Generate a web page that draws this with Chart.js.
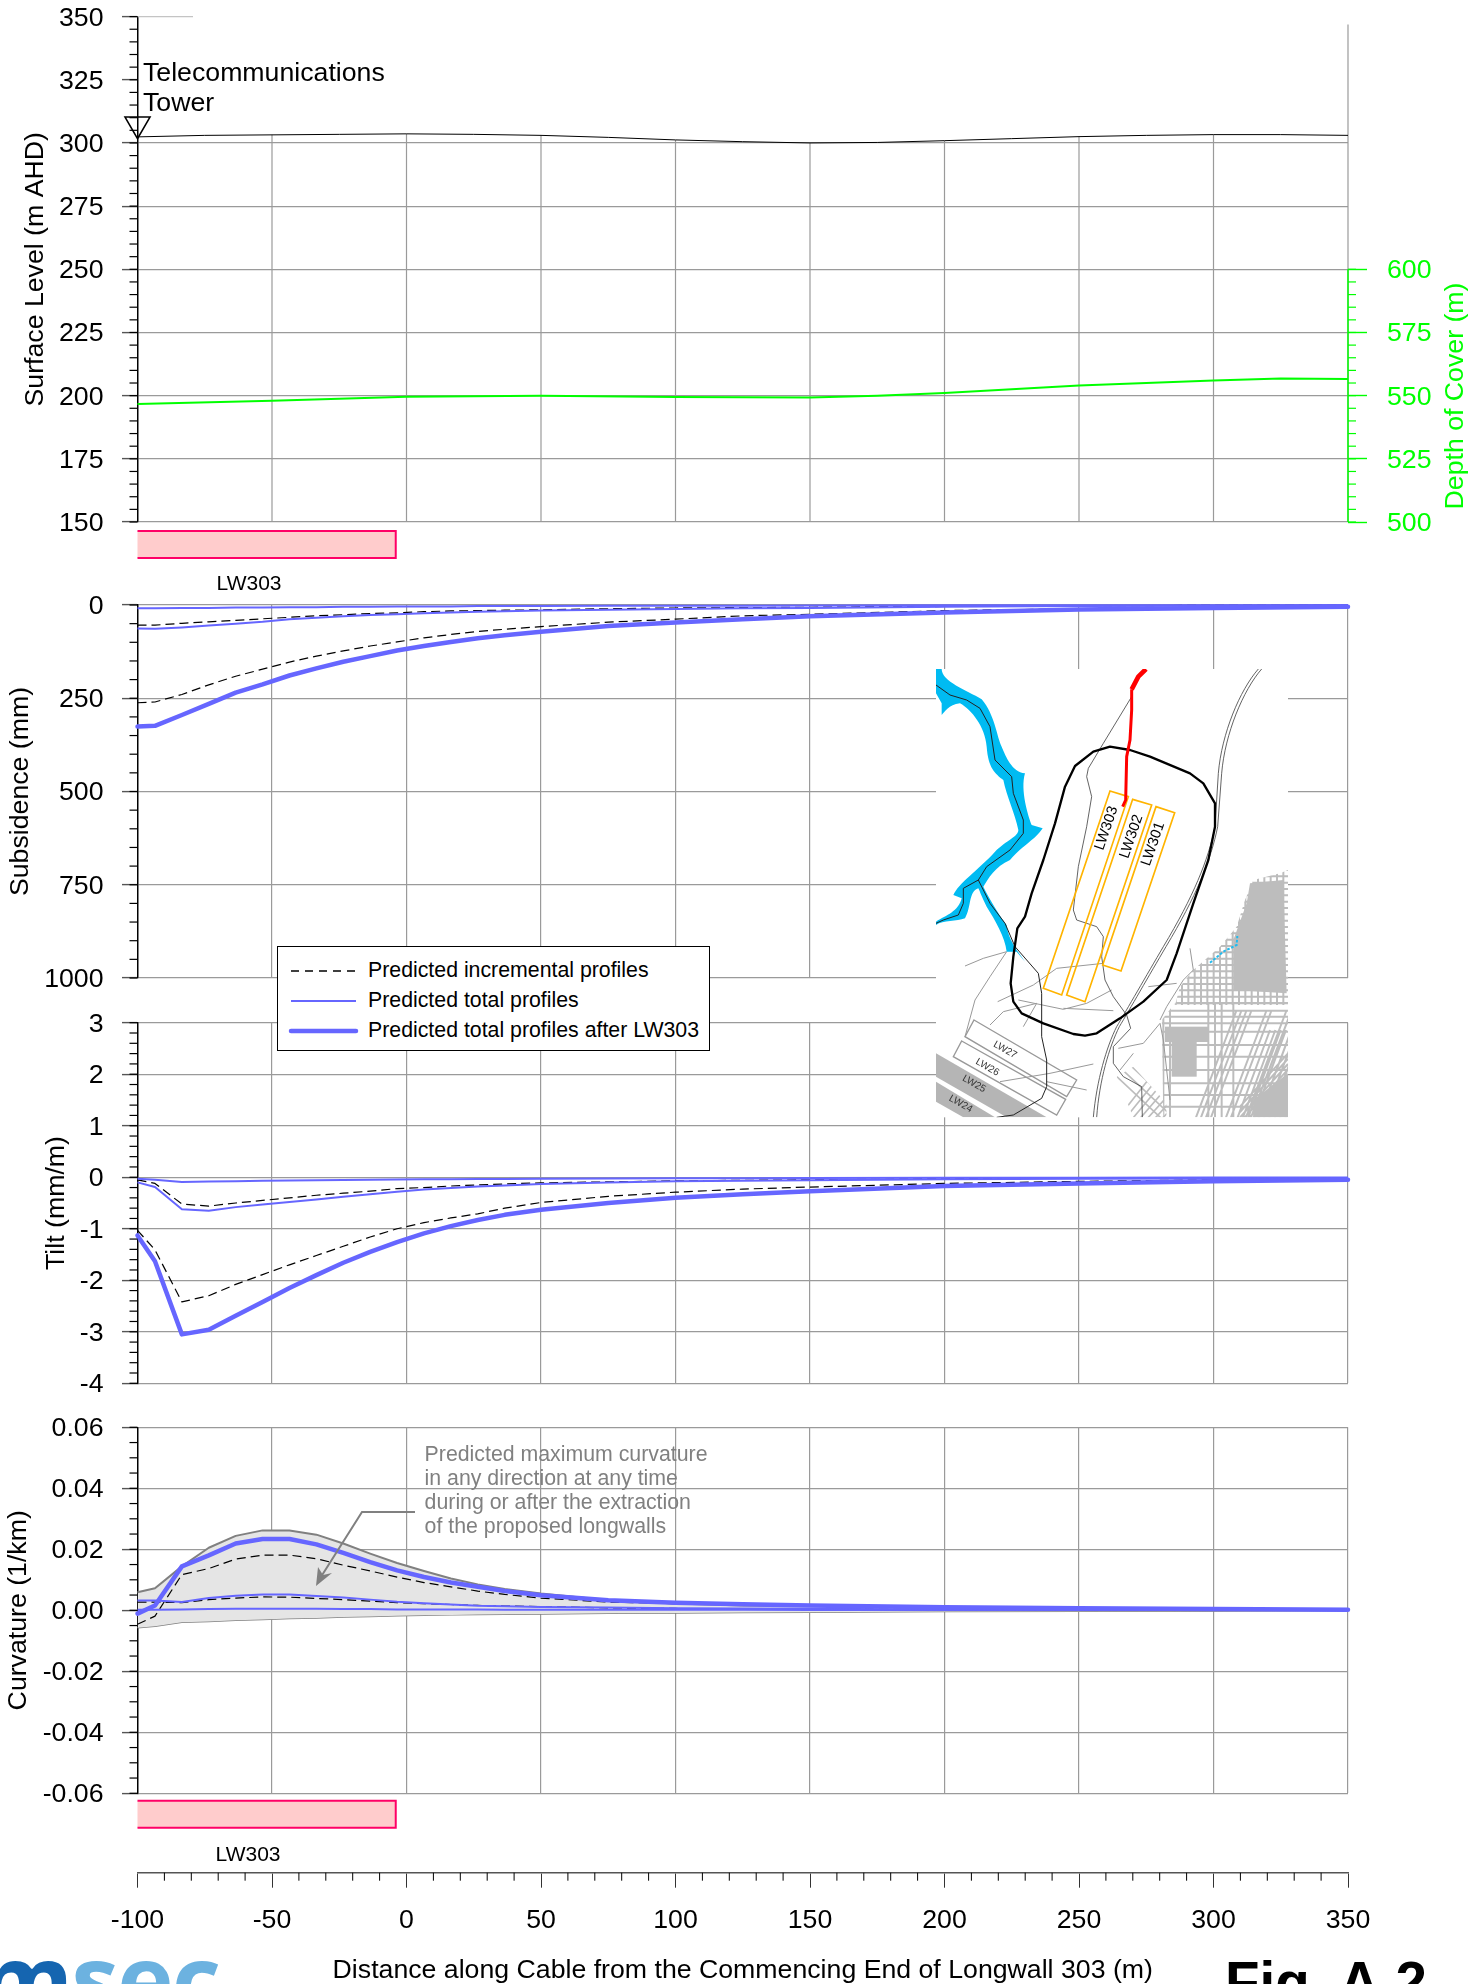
<!DOCTYPE html>
<html>
<head>
<meta charset="utf-8">
<style>
html,body{margin:0;padding:0;background:#fff;}
body{position:relative;width:1484px;height:1984px;overflow:hidden;font-family:"Liberation Sans",Arial,sans-serif;}
canvas{position:absolute;left:0;}
#legend{position:absolute;left:277px;top:946px;width:431px;height:103px;background:#fff;border:1.5px solid #000;box-sizing:content-box;}
#legend .row{position:absolute;left:90px;font-size:21.3px;line-height:24px;white-space:nowrap;color:#000;}
#legend svg{position:absolute;left:0;top:0;}
#map{position:absolute;left:900px;top:640px;}
#fig{position:absolute;left:1225px;top:1950px;font-size:56.5px;font-weight:bold;line-height:66px;white-space:nowrap;color:#000;}
#logo{position:absolute;left:-21px;top:1928px;font-family:"Open Sans",sans-serif;font-weight:700;font-size:96px;line-height:100px;white-space:nowrap;letter-spacing:-2px;}
</style>
</head>
<body>
<canvas id="c1"></canvas>
<canvas id="c2"></canvas>
<canvas id="c3"></canvas>
<canvas id="c4"></canvas>
<canvas id="c5"></canvas>
<div id="mapHolder"></div>
<div id="legend">
  <svg width="431" height="103">
    <line x1="13" x2="78" y1="24" y2="24" stroke="#000" stroke-width="1.6" stroke-dasharray="8 6"/>
    <line x1="13" x2="78" y1="54" y2="54" stroke="#6666FF" stroke-width="2"/>
    <line x1="13" x2="78" y1="84" y2="84" stroke="#6666FF" stroke-width="4.5" stroke-linecap="round"/>
  </svg>
  <div class="row" style="top:11px">Predicted incremental profiles</div>
  <div class="row" style="top:41px">Predicted total profiles</div>
  <div class="row" style="top:71px">Predicted total profiles after LW303</div>
</div>
<div id="logo"><span style="color:#1565b0">m</span><span style="color:#6cb2e0">sec</span></div>
<div id="fig">Fig. A.2</div>
<script src="https://cdn.jsdelivr.net/npm/chart.js"></script>
<script>
// ---------- data ----------
const surfaceX = [-100,-75,-50,-25,0,25,50,75,100,125,150,175,200,225,250,275,300,325,350];
const surfaceLevel = [302.4,303,303.2,303.4,303.6,303.4,303,302.2,301.2,300.5,300,300.2,300.9,301.7,302.5,303,303.3,303.3,303];
const depthX = [-100,-50,0,50,100,150,175,200,250,300,325,350];
const depthOfCover = [546.7,548,549.6,550,549.5,549.3,550,551,554,556,556.8,556.6];
const towerX = [-100];
const towerY = [307.4];
const longwallSpan = [-100,-4];
const longwallName = "LW303";

const profileX = [-100,-93.5,-83.5,-73.5,-63.5,-53.5,-43.5,-33.5,-23.5,-13.5,-3.5,6.5,16.5,26.5,36.5,50,75,100,125,150,200,250,300,350];

const subsAfter = [326,324,295,265,235,213,189,170,152,137,122,110,99,89,81,72,56,47,38,30,20,12,8,5];
const subsIncBig = [262,260,240,214,191,172,153,137,123,110,99,88,79,71,65,58,46,38,29,25,15,10,7,4];
const subsTotalMid = [63,64,60,55,50,45,38,34,30,27,25,22,20,18,17,15,13,11,9,8,5,3,2,1];
const subsIncMid = [54,54,49,45,41,37,33,29,26,23,21,18,16,15,14,13,10,8,7,6,4,2,1,1];
const subsTotalLow = [9,9,8,8,7,7,6,6,5,5,4,4,4,3,3,3,2,2,2,1.5,1,1,0.5,0.5];

const tiltAfter = [-1.13,-1.63,-3.05,-2.96,-2.69,-2.42,-2.15,-1.9,-1.66,-1.45,-1.26,-1.09,-0.95,-0.83,-0.73,-0.63,-0.5,-0.4,-0.33,-0.27,-0.17,-0.12,-0.08,-0.05];
const tiltIncBig = [-1.03,-1.41,-2.42,-2.3,-2.08,-1.89,-1.7,-1.52,-1.34,-1.16,-1,-0.88,-0.79,-0.71,-0.6,-0.49,-0.37,-0.29,-0.23,-0.19,-0.12,-0.08,-0.05,-0.03];
const tiltTotalMid = [-0.1,-0.19,-0.62,-0.65,-0.58,-0.53,-0.48,-0.43,-0.38,-0.33,-0.28,-0.24,-0.21,-0.18,-0.16,-0.13,-0.1,-0.08,-0.07,-0.06,-0.04,-0.03,-0.025,-0.02];
const tiltIncMid = [-0.05,-0.12,-0.52,-0.56,-0.5,-0.45,-0.4,-0.35,-0.31,-0.27,-0.22,-0.2,-0.17,-0.15,-0.13,-0.11,-0.09,-0.07,-0.06,-0.05,-0.03,-0.02,-0.015,-0.01];
const tiltTotalLow = [-0.03,-0.05,-0.09,-0.085,-0.08,-0.07,-0.065,-0.06,-0.055,-0.05,-0.045,-0.04,-0.04,-0.035,-0.035,-0.03,-0.025,-0.02,-0.018,-0.015,-0.012,-0.01,-0.007,-0.005];

const curvUpper = [0.0059,0.0072,0.0144,0.0205,0.0244,0.0262,0.0262,0.0248,0.0219,0.0186,0.0155,0.0129,0.0104,0.0085,0.007,0.0055,0.0033,0.0022,0.0016,0.0014,0.0011,0.0007,0.0004,0.0003];
const curvLower = [-0.0057,-0.0052,-0.0039,-0.0037,-0.0033,-0.003,-0.0027,-0.0025,-0.0022,-0.002,-0.0018,-0.0016,-0.0015,-0.0014,-0.0013,-0.0012,-0.001,-0.0009,-0.0007,-0.0006,-0.0004,-0.0003,-0.0002,-0.0001];
const curvAfter = [-0.0011,0.0016,0.0144,0.018,0.0219,0.0234,0.0234,0.0216,0.0188,0.0158,0.0131,0.0109,0.0091,0.0077,0.0063,0.0049,0.0033,0.0025,0.002,0.0016,0.001,0.0007,0.0004,0.0002];
const curvIncBig = [-0.0046,-0.0019,0.0117,0.0137,0.0168,0.0181,0.0181,0.0169,0.0148,0.0129,0.0109,0.0091,0.0077,0.0063,0.0052,0.004,0.0027,0.0022,0.0019,0.0014,0.0008,0.0005,0.0003,0.0002];
const curvTotalMid = [0.0032,0.0032,0.0027,0.004,0.0048,0.0052,0.0052,0.0047,0.0042,0.0035,0.0028,0.0023,0.0019,0.0015,0.0013,0.0011,0.0009,0.0007,0.0006,0.0005,0.0003,0.0002,0.0001,0.0001];
const curvIncMid = [0.0027,0.0027,0.0025,0.0035,0.004,0.0044,0.0043,0.0039,0.0035,0.003,0.0025,0.0022,0.0019,0.0016,0.0014,0.0012,0.0008,0.0006,0.0005,0.0004,0.0003,0.0002,0.0001,0.0001];
const curvTotalLow = [0.0002,0.0002,0.0003,0.0004,0.0005,0.0005,0.0005,0.0005,0.0004,0.0004,0.0003,0.0003,0.0003,0.0003,0.0002,0.0002,0.0002,0.0002,0.0002,0.0001,0.0001,0.0001,0.0001,0.0001];

const towerText = ["Telecommunications","Tower"];
const noteText = ["Predicted maximum curvature","in any direction at any time","during or after the extraction","of the proposed longwalls"];

// ---------- styles ----------
const FS = 26.7, BLUE = "#6666FF", GRID = "#9a9a9a", TICK = "#555";
Chart.defaults.font.family = '"Liberation Sans",Arial,sans-serif';
Chart.defaults.font.size = FS;
Chart.defaults.color = "#000";
Chart.defaults.animation = false;

// y-axis tick labels sit slightly lower than the canvas "middle" baseline
Chart.register({id:"labelNudge",beforeDraw(ch){
  Object.values(ch.scales).forEach(s=>{
    if(s.axis==="y" && s.options.display) s.getLabelItems().forEach(i=>{i.textOffset+=1.6;});
  });
}});

const L = 137.5, R = 1348;

function series(xs, ys, o){
  return Object.assign({data: xs.map((x,i)=>({x, y: ys[i]})), pointRadius:0, tension:0, clip:false, fill:false, borderJoinStyle:"round"}, o);
}
const thick = {borderColor:BLUE, borderWidth:4.5, borderCapStyle:"round"};
const thin  = {borderColor:BLUE, borderWidth:2};
const dash  = {borderColor:"#000", borderWidth:1.2, borderDash:[9,5]};

function xHidden(gridOn){
  return {type:"linear", min:-100, max:350, ticks:{display:false, stepSize:50},
    border:{display:false},
    grid:{display:gridOn, drawTicks:false, tickLength:0, lineWidth:1.2,
      color:c=>c.tick && c.tick.value===-100 ? "transparent" : GRID},
    afterFit:s=>{s.height=0;}};
}
function yLeft(min,max,step,titleText,left,fmt,reverse,skipAbove){
  return {type:"linear", position:"left", min, max, reverse:!!reverse,
    ticks:{stepSize:step, autoSkip:false, padding:18.5, callback:fmt||(v=>String(v)), font:{size:FS}},
    title:{display:true, text:titleText, padding:0, font:{size:FS}, color:"#000"},
    border:{color:"#000", width:1.5},
    grid:{tickLength:15.5, lineWidth:1.2, tickWidth:1.4, tickColor:TICK,
      color:c=> (skipAbove!==undefined && c.tick.value>skipAbove) ? "transparent" : GRID},
    afterFit:s=>{s.width=L-left;}};
}
function minorYPlugin(scaleId, minor, color, dir, maxV){
  return {id:"minor"+scaleId, afterDraw(ch){
    const s=ch.scales[scaleId], g=ch.ctx; g.save(); g.strokeStyle=color; g.lineWidth=1.2;
    const top=maxV===undefined?s.max:maxV;
    const n=Math.round((top-s.min)/minor);
    for(let i=0;i<=n;i++){
      const v=s.min+i*minor;
      const y=s.getPixelForValue(v);
      const x0=dir<0?L:R;
      g.beginPath(); g.moveTo(x0,y); g.lineTo(x0+dir*8,y); g.stroke();
    }
    g.restore();
  }};
}
function longwallPlugin(yTop,yBot,yText,xText){
  return {id:"longwall", afterDraw(ch){
    const x=ch.scales.x, g=ch.ctx;
    const a=x.getPixelForValue(longwallSpan[0]), b=x.getPixelForValue(longwallSpan[1]);
    const off=parseFloat(ch.canvas.style.top);
    g.save();
    g.fillStyle="#FFCCCC"; g.fillRect(a,yTop-off,b-a,yBot-yTop);
    g.strokeStyle="#FF0066"; g.lineWidth=2; g.beginPath();
    g.moveTo(a,yTop-off); g.lineTo(b,yTop-off); g.lineTo(b,yBot-off); g.lineTo(a,yBot-off); g.stroke();
    g.fillStyle="#000"; g.font='21px "Liberation Sans",Arial,sans-serif'; g.textAlign="center"; g.textBaseline="middle";
    g.fillText(longwallName,xText,yText+1.2-off);
    g.restore();
  }};
}
function place(id, top, bottom, areaTop, areaBottom){
  const c=document.getElementById(id);
  c.width=1484; c.height=bottom-top;
  c.style.top=top+"px"; c.style.width="1484px"; c.style.height=(bottom-top)+"px";
  return {top:areaTop-top, bottom:bottom-areaBottom};
}
function make(id, top, bottom, aTop, aBot, padLeft, padRight, datasets, scales, plugins){
  const p=place(id,top,bottom,aTop,aBot);
  return new Chart(document.getElementById(id),{type:"line",data:{datasets},
    plugins,
    options:{responsive:false,devicePixelRatio:1,animation:false,parsing:true,
      layout:{padding:{left:padLeft,right:padRight,top:p.top,bottom:p.bottom}},
      plugins:{legend:{display:false},tooltip:{enabled:false}},
      scales}});
}

// ---------- panel 1: surface level & depth of cover ----------
const OFF1 = -50;
make("c1",OFF1,602,16.6,522,20,0,[
  series(surfaceX,surfaceLevel,{borderColor:"#000",borderWidth:1,yAxisID:"y"}),
  series(depthX,depthOfCover,{borderColor:"#00FF00",borderWidth:2,yAxisID:"y2"}),
  {data:towerX.map((x,i)=>({x,y:towerY[i]})),yAxisID:"y",showLine:false,clip:false,
   pointStyle:"triangle",pointRotation:180,pointRadius:14.4,borderColor:"#000",borderWidth:1.6,backgroundColor:"rgba(255,255,255,0)"}
],{
  x:xHidden(false),
  y:yLeft(150,350,25,"Surface Level (m AHD)",20,null,false,300),
  y2:{type:"linear",position:"right",min:500,max:700,
    ticks:{stepSize:25,autoSkip:false,padding:20,color:"#00FF00",callback:v=>v<=600?String(v):"",font:{size:FS}},
    border:{display:false},
    grid:{drawOnChartArea:false,tickLength:19,tickWidth:1.4,tickColor:c=>c.tick.value<=600?"#00FF00":"transparent"},
    afterFit:s=>{s.width=136;}}
},[
  {id:"topGrid",beforeDatasetsDraw(ch){
    const x=ch.scales.x,y=ch.scales.y,g=ch.ctx;
    g.save(); g.strokeStyle=GRID; g.lineWidth=1.2;
    for(let v=-50;v<=350;v+=50){
      const px=x.getPixelForValue(v);
      const k=surfaceX.indexOf(v);
      const yTop=v===350?24.5-OFF1:y.getPixelForValue(surfaceLevel[k]);
      g.beginPath(); g.moveTo(px,yTop); g.lineTo(px,y.getPixelForValue(150)); g.stroke();
    }
    g.strokeStyle="#c4c4c4";
    const y350=y.getPixelForValue(350);
    g.beginPath(); g.moveTo(L,y350); g.lineTo(193,y350); g.stroke();
    g.restore();
  }},
  minorYPlugin("y",5,"#000",-1),
  minorYPlugin("y2",5,"#00FF00",1,600),
  {id:"greenAxis",afterDraw(ch){
    const s=ch.scales.y2,g=ch.ctx;
    g.save(); g.strokeStyle="#00FF00"; g.lineWidth=1.5;
    g.beginPath(); g.moveTo(R,s.getPixelForValue(500)); g.lineTo(R,s.getPixelForValue(600)); g.stroke();
    g.translate(1456,396-OFF1); g.rotate(-Math.PI/2);
    g.fillStyle="#00FF00"; g.font=FS+'px "Liberation Sans",Arial,sans-serif'; g.textAlign="center"; g.textBaseline="middle";
    g.fillText("Depth of Cover (m)",0,0);
    g.restore();
    g.save(); g.fillStyle="#000"; g.font='26.7px "Liberation Sans",Arial,sans-serif'; g.textBaseline="middle";
    g.fillText(towerText[0],143,73.5-OFF1); g.fillText(towerText[1],143,103.5-OFF1);
    g.restore();
  }},
  longwallPlugin(531,558,583,249)
]);

// ---------- panel 2: subsidence ----------
make("c2",555,1030,605,978,5,136,[
  series(profileX,subsAfter,thick),
  series(profileX,subsTotalMid,thin),
  series(profileX,subsTotalLow,thin),
  series(profileX,subsIncBig,dash),
  series(profileX,subsIncMid,dash)
],{
  x:xHidden(true),
  y:yLeft(0,1000,250,"Subsidence (mm)",5,null,true)
},[minorYPlugin("y",50,"#000",-1)]);

// ---------- panel 3: tilt ----------
make("c3",970,1440,1022.7,1383.3,41,136,[
  series(profileX,tiltAfter,thick),
  series(profileX,tiltTotalMid,thin),
  series(profileX,tiltTotalLow,thin),
  series(profileX,tiltIncBig,dash),
  series(profileX,tiltIncMid,dash)
],{
  x:xHidden(true),
  y:yLeft(-4,3,1,"Tilt (mm/m)",41)
},[minorYPlugin("y",0.2,"#000",-1)]);

// ---------- panel 4: curvature ----------
const OFF4 = 1377;
make("c4",OFF4,1870,1427.3,1793.3,3,136,[
  series(profileX,curvAfter,thick),
  series(profileX,curvTotalMid,thin),
  series(profileX,curvTotalLow,thin),
  series(profileX,curvIncBig,dash),
  series(profileX,curvIncMid,dash),
  series(profileX,curvUpper,{borderColor:"#808080",borderWidth:2,fill:"+1",backgroundColor:"#e5e5e5"}),
  series(profileX,curvLower,{borderColor:"#808080",borderWidth:1.5})
],{
  x:xHidden(true),
  y:yLeft(-0.06,0.06,0.02,"Curvature (1/km)",3,v=>v.toFixed(2).replace("-0.00","0.00"))
},[
  minorYPlugin("y",0.005,"#000",-1),
  longwallPlugin(1800.7,1827.7,1854,248),
  {id:"note",afterDatasetsDraw(ch){
    const g=ch.ctx, off=OFF4; g.save();
    g.fillStyle="#808080"; g.font='21.3px "Liberation Sans",Arial,sans-serif'; g.textBaseline="middle";
    noteText.forEach((t,i)=>g.fillText(t,424.6,1455+24*i-off));
    g.strokeStyle="#808080"; g.lineWidth=2;
    g.beginPath(); g.moveTo(415,1512-off); g.lineTo(362,1512-off); g.lineTo(319,1580-off); g.stroke();
    g.beginPath(); g.moveTo(316,1586-off); g.lineTo(318,1567-off); g.lineTo(323,1575-off); g.lineTo(332,1573-off); g.closePath();
    g.fillStyle="#808080"; g.fill();
    g.restore();
  }}
]);

// ---------- bottom distance axis ----------
(function(){
  const p=place("c5",1850,1987,1862.7,1872.7);
  new Chart(document.getElementById("c5"),{type:"line",data:{datasets:[]},
    plugins:[{id:"minorX",afterDraw(ch){
      const x=ch.scales.x,g=ch.ctx,y0=ch.chartArea.bottom;
      g.save(); g.strokeStyle="#000"; g.lineWidth=1;
      for(let v=-100;v<=350;v+=10){
        if(v%50===0) continue;
        const px=x.getPixelForValue(v);
        g.beginPath(); g.moveTo(px,y0); g.lineTo(px,y0+8); g.stroke();
      }
      g.restore();
    }}],
    options:{responsive:false,devicePixelRatio:1,animation:false,
      layout:{padding:{left:L,right:136,top:p.top,bottom:0}},
      plugins:{legend:{display:false},tooltip:{enabled:false}},
      scales:{
        y:{display:false,min:0,max:1},
        x:{type:"linear",position:"bottom",min:-100,max:350,
          ticks:{stepSize:50,autoSkip:false,maxRotation:0,padding:16.5,callback:v=>String(v),font:{size:FS}},
          border:{color:"#555",width:1.5},
          title:{display:true,text:"Distance along Cable from the Commencing End of Longwall 303 (m)",padding:0,font:{size:FS},color:"#000"},
          grid:{drawOnChartArea:false,tickLength:15,tickColor:"#333",tickWidth:1},
          afterFit:s=>{s.height=114.3;}}
      }}});
})();

// ---------- location map inset ----------
(function(){
  const poly=a=>a.map(p=>p.join(",")).join(" ");
  const pl=(a,c,w)=>`<polyline points="${poly(a)}" fill="none" stroke="${c}" stroke-width="${w}" stroke-linejoin="round"/>`;
  let streets="";
  for(let y=690;y<1100;y+=19) streets+=`M760 ${y}H1170`;
  for(let x=770;x<1170;x+=19) streets+=`M${x} 680V1100`;
  let lower="";
  for(const y of [1090,1112,1130,1150,1175,1215,1250,1290,1330,1365,1400]) lower+=`M760 ${y}H1170`;
  for(const x of [790,810,925,945,965,1000]) lower+=`M${x} 1090V1440`;
  for(let i=0;i<14;i++){ const d=i*15; lower+=`M${885+d} 1440L${1010+d} 1110`; if(i%4==3) i+=2; }
  for(let i=0;i<10;i++){ const d=i*16; lower+=`M${1010+d} 1440L${1110+d} 1170`; }
  for(let i=0;i<7;i++){ const d=i*16; lower+=`M${1164} ${1240+d}L${1020} ${1400+d}`; }
  let diag="";
  for(let i=0;i<9;i++){ const d=i*22; diag+=`M${640+d} ${1300-d*0.7}L${800+d} ${1450-d*0.7}`; diag+=`M${650+d} ${1440}L${760+d} ${1300+d*0.2}`; }
  const svg=`<svg id="map" width="460" height="500" viewBox="0 0 1380 1500" xmlns="http://www.w3.org/2000/svg">
  <defs>
   <clipPath id="mc"><rect x="108" y="87" width="1056" height="1345"/></clipPath>
   <clipPath id="town"><polygon points="1164,690 1140,700 1060,720 1035,780 1010,860 960,920 880,990 840,1040 825,1095 1164,1095"/></clipPath>
   <clipPath id="town3"><polygon points="825,1090 1164,1090 1164,1432 790,1432 785,1140"/></clipPath>
   <clipPath id="town2"><polygon points="650,1310 700,1280 800,1390 800,1432 700,1432"/></clipPath>
  </defs>
  <rect x="108" y="87" width="1056" height="1345" fill="#fff"/>
  <g clip-path="url(#mc)">
   <g clip-path="url(#town)"><path d="${streets}" stroke="#bdbdbd" stroke-width="6" fill="none"/></g>
   <g clip-path="url(#town3)"><path d="${lower}" stroke="#bdbdbd" stroke-width="6" fill="none"/></g>
   <g clip-path="url(#town2)"><path d="${diag}" stroke="#bdbdbd" stroke-width="5" fill="none"/></g>
   <polygon points="1050,730 1150,720 1160,1060 1000,1050 1000,900 1040,790" fill="#bdbdbd"/>
   <rect x="795" y="1160" width="130" height="46" fill="#bdbdbd"/>
   <rect x="815" y="1205" width="75" height="105" fill="#bdbdbd"/>
   <polygon points="1060,1380 1164,1300 1164,1432 1060,1432" fill="#bdbdbd"/>
   <polyline points="930,968 970,935 1010,915 1012,888" fill="none" stroke="#22bbee" stroke-width="6" stroke-dasharray="8 5"/>
   <polygon points="108,1240 108,1310 320,1432 440,1432" fill="#b5b5b5"/>
   <polygon points="108,1325 108,1385 190,1432 285,1432" fill="#b5b5b5"/>
   <polygon points="222,1140 530,1320 500,1370 195,1190" fill="#fff" stroke="#999" stroke-width="4"/>
   <polygon points="185,1203 497,1378 470,1425 160,1250" fill="#fff" stroke="#999" stroke-width="4"/>
   <text transform="translate(315,1230) rotate(30)" text-anchor="middle" dominant-baseline="middle" font-size="30" fill="#333" font-family="Liberation Sans">LW27</text>
   <text transform="translate(262,1282) rotate(30)" text-anchor="middle" dominant-baseline="middle" font-size="30" fill="#333" font-family="Liberation Sans">LW26</text>
   <text transform="translate(222,1332) rotate(30)" text-anchor="middle" dominant-baseline="middle" font-size="30" fill="#333" font-family="Liberation Sans">LW25</text>
   <text transform="translate(182,1392) rotate(30)" text-anchor="middle" dominant-baseline="middle" font-size="30" fill="#333" font-family="Liberation Sans">LW24</text>
   ${pl([[195,978],[250,955],[320,935],[270,1010],[225,1080],[195,1190]],"#999",3)}
   ${pl([[293,1085],[400,1035],[470,985],[610,970]],"#999",3)}
   ${pl([[355,1080],[490,1108],[560,1090],[635,1050]],"#999",3)}
   ${pl([[270,1155],[310,1115],[410,1090],[370,1160]],"#999",3)}
   ${pl([[490,1105],[640,1112]],"#999",3)}
   ${pl([[300,1325],[450,1300],[580,1272]],"#999",3)}
   ${pl([[440,1325],[560,1350]],"#999",3)}
   ${pl([[655,1225],[730,1210],[780,1150],[790,1200],[810,1380]],"#999",3)}
   ${pl([[745,1040],[830,1030]],"#999",3)}
   ${pl([[870,925],[880,990],[850,1020],[800,1100],[780,1140]],"#999",3)}
   ${pl([[660,1290],[700,1240]],"#999",3)}
   <path d="M125,87C125,125 200,150 245,178C285,225 290,290 305,320C318,350 335,395 375,400C360,450 385,530 395,555L428,565C405,600 375,610 330,660C285,680 265,715 250,740C270,780 300,830 320,855C325,900 350,930 375,965L350,935L320,935C315,890 285,840 260,800C245,770 240,755 235,745C205,755 215,800 195,835C170,845 130,840 108,855V845C140,825 175,815 185,775L160,765C175,730 235,690 285,635C320,600 355,590 355,570C345,520 320,470 310,420C285,400 265,385 260,320C255,260 215,210 180,190C145,195 135,215 125,225L125,190L108,160V87Z" fill="#00BBF2"/>
   ${pl([[108,135],[150,165],[200,180],[240,205],[270,260],[285,360],[335,410],[340,460],[370,540],[370,580],[330,630],[260,680],[235,720],[190,745],[190,790],[175,825],[130,840],[108,850]],"#222",3)}
   ${pl([[235,720],[270,790],[315,850],[345,920],[415,1000],[425,1060],[425,1190],[440,1260],[440,1340],[425,1375],[340,1425],[290,1432]],"#222",3)}
   ${pl([[695,170],[610,310],[565,385],[560,410],[575,470],[560,560],[535,680],[520,810],[530,840],[590,860],[610,890],[605,950],[615,1020],[640,1070],[680,1125],[692,1165],[640,1220],[640,1270],[670,1310],[725,1340],[727,1432]],"#444",2.5)}
   <path d="M1075,87C1020,150 965,280 955,400L945,560C925,660 880,770 790,920C740,1005 680,1110 650,1160C620,1220 590,1320 580,1432" fill="none" stroke="#444" stroke-width="2.5"/>
   <path d="M1085,87C1030,150 975,280 965,400L953,560C933,660 888,770 798,920C748,1005 688,1110 658,1160C628,1220 598,1320 590,1432" fill="none" stroke="#444" stroke-width="2.5"/>
   <polygon points="630,453 685,470 485,1065 430,1045" fill="none" stroke="#FFB400" stroke-width="5"/>
   <polygon points="698,478 755,495 555,1085 500,1065" fill="none" stroke="#FFB400" stroke-width="5"/>
   <polygon points="768,500 824,518 663,993 608,975" fill="none" stroke="#FFB400" stroke-width="5"/>
   <polygon points="630,320 580,335 525,378 495,440 465,550 430,660 395,760 375,830 352,865 340,950 332,1030 340,1085 365,1120 430,1150 520,1182 555,1187 590,1180 660,1135 730,1085 800,1020 830,940 880,790 925,660 945,560 945,490 910,430 870,400 750,350 690,330" fill="none" stroke="#000" stroke-width="7" stroke-linejoin="round"/>
   ${pl([[738,87],[715,110],[695,148]],"#FF0000",14)}
   ${pl([[695,148],[695,210],[690,300],[680,350],[677,480],[668,500]],"#FF0000",9)}
   <text transform="translate(620,565) rotate(-71)" text-anchor="middle" dominant-baseline="middle" font-size="44" fill="#000" font-family="Liberation Sans">LW303</text>
   <text transform="translate(695,590) rotate(-71)" text-anchor="middle" dominant-baseline="middle" font-size="44" fill="#000" font-family="Liberation Sans">LW302</text>
   <text transform="translate(760,612) rotate(-71)" text-anchor="middle" dominant-baseline="middle" font-size="44" fill="#000" font-family="Liberation Sans">LW301</text>
  </g></svg>`;
  document.getElementById("mapHolder").innerHTML=svg;
})();
</script>
</body>
</html>
